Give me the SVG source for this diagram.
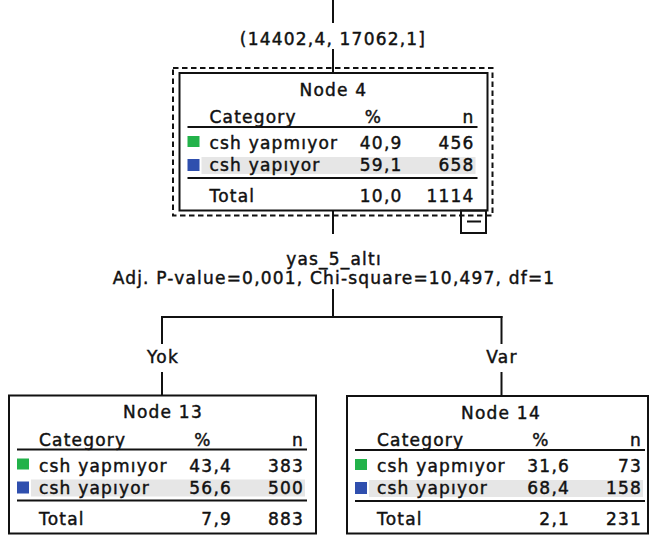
<svg xmlns="http://www.w3.org/2000/svg" width="649" height="539" viewBox="0 0 649 539">
<style>
text{font-family:"DejaVu Sans","Liberation Sans",sans-serif;font-size:17px;letter-spacing:1.2px;fill:#111;stroke:#111;stroke-width:0.45px}
.m{text-anchor:middle}
.e{text-anchor:end}
.ln{stroke:#111;stroke-width:2;fill:none}
.box{fill:#fff;stroke:#111;stroke-width:2}
.band{fill:#e6e6e6}
.g{fill:#22b24a}
.b{fill:#2f4fae}
</style>
<rect width="649" height="539" fill="#fff"/>
<g id="connectors">
<line class="ln" x1="333" y1="0" x2="333" y2="23"/>
<line class="ln" x1="333" y1="49" x2="333" y2="73"/>
<line class="ln" x1="333" y1="211" x2="333" y2="234"/>
<line class="ln" x1="333" y1="289" x2="333" y2="317"/>
<line class="ln" x1="161" y1="317" x2="502.5" y2="317"/>
<line class="ln" x1="162" y1="316" x2="162" y2="344"/>
<line class="ln" x1="162" y1="372" x2="162" y2="396"/>
<line class="ln" x1="501.5" y1="316" x2="501.5" y2="344"/>
<line class="ln" x1="501.5" y1="372" x2="501.5" y2="397"/>
<text class="m" x="333" y="45">(14402,4, 17062,1]</text>
<text class="m" x="334" y="265">yas_5_altı</text>
<text class="m" x="334" y="284">Adj. P-value=0,001, Chi-square=10,497, df=1</text>
<text class="m" x="163" y="363">Yok</text>
<text class="m" x="502" y="363">Var</text>
</g>
<g id="node4">
<rect x="173" y="68" width="319.5" height="147.5" fill="none" stroke="#111" stroke-width="2" stroke-dasharray="5.5 3.5"/>
<g transform="translate(179.5,73)">
<rect class="box" x="0" y="0" width="308" height="137.5"/>
<text class="m" x="154" y="22.5">Node 4</text>
<text x="30" y="50">Category</text>
<text class="m" x="194" y="50">%</text>
<text class="e" x="295" y="50">n</text>
<line class="ln" x1="8" y1="54" x2="298" y2="54"/>
<rect class="g" x="8" y="63" width="12" height="11"/>
<text x="30" y="76">csh yapmıyor</text>
<text class="e" x="223" y="76">40,9</text>
<text class="e" x="295" y="76">456</text>
<rect class="band" x="22" y="84" width="274" height="17"/>
<rect class="b" x="8" y="86" width="12" height="12"/>
<text x="30" y="98">csh yapıyor</text>
<text class="e" x="223" y="98">59,1</text>
<text class="e" x="295" y="98">658</text>
<line class="ln" x1="8" y1="105" x2="298" y2="105"/>
<text x="30" y="129">Total</text>
<text class="e" x="223" y="129">10,0</text>
<text class="e" x="295" y="129">1114</text>
</g>
<rect x="461" y="210.5" width="25" height="22.5" fill="none" stroke="#111" stroke-width="2"/>
<line class="ln" x1="467" y1="221.5" x2="481" y2="221.5"/>
</g>
<g id="node13" transform="translate(9,395.5)">
<rect class="box" x="0" y="0" width="307" height="138"/>
<text class="m" x="154" y="22.5">Node 13</text>
<text x="30" y="50">Category</text>
<text class="m" x="194" y="50">%</text>
<text class="e" x="295" y="50">n</text>
<line class="ln" x1="8" y1="54" x2="298" y2="54"/>
<rect class="g" x="8" y="63" width="12" height="11"/>
<text x="30" y="76">csh yapmıyor</text>
<text class="e" x="223" y="76">43,4</text>
<text class="e" x="295" y="76">383</text>
<rect class="band" x="22" y="84" width="274" height="17"/>
<rect class="b" x="8" y="86" width="12" height="12"/>
<text x="30" y="98">csh yapıyor</text>
<text class="e" x="223" y="98">56,6</text>
<text class="e" x="295" y="98">500</text>
<line class="ln" x1="8" y1="105" x2="298" y2="105"/>
<text x="30" y="129">Total</text>
<text class="e" x="223" y="129">7,9</text>
<text class="e" x="295" y="129">883</text>
</g>
<g id="node14" transform="translate(347,396)">
<rect class="box" x="0" y="0" width="301" height="137.5"/>
<text class="m" x="154" y="22.5">Node 14</text>
<text x="30" y="50">Category</text>
<text class="m" x="194" y="50">%</text>
<text class="e" x="295" y="50">n</text>
<line class="ln" x1="8" y1="54" x2="298" y2="54"/>
<rect class="g" x="8" y="63" width="12" height="11"/>
<text x="30" y="76">csh yapmıyor</text>
<text class="e" x="223" y="76">31,6</text>
<text class="e" x="295" y="76">73</text>
<rect class="band" x="22" y="84" width="274" height="17"/>
<rect class="b" x="8" y="86" width="12" height="12"/>
<text x="30" y="98">csh yapıyor</text>
<text class="e" x="223" y="98">68,4</text>
<text class="e" x="295" y="98">158</text>
<line class="ln" x1="8" y1="105" x2="298" y2="105"/>
<text x="30" y="129">Total</text>
<text class="e" x="223" y="129">2,1</text>
<text class="e" x="295" y="129">231</text>
</g>
</svg>
